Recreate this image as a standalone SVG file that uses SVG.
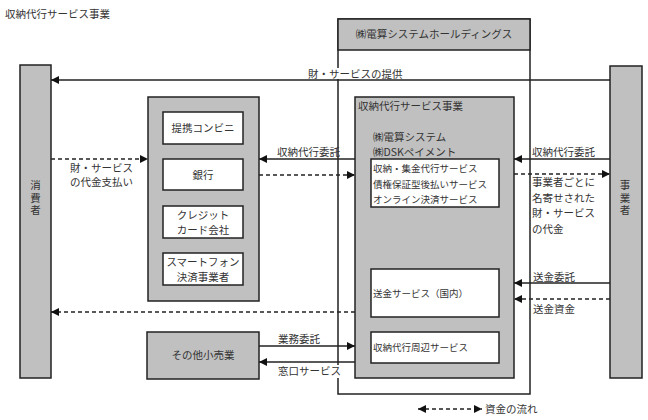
<svg xmlns="http://www.w3.org/2000/svg" width="648" height="420" viewBox="0 0 648 420">
<defs>
<style>
text{font-family:"Noto Sans CJK JP","Noto Sans",sans-serif;font-size:10.5px;fill:#333}
.c{text-anchor:middle}
.s{font-size:9.5px}
.v{writing-mode:vertical-rl;text-anchor:middle;letter-spacing:2px}
.gray{fill:#c0c0c0;stroke:#222;stroke-width:1.5}
.white{fill:#fff;stroke:#222;stroke-width:1.5}
.ln{stroke:#222;stroke-width:1.3;fill:none}
.ds{stroke:#222;stroke-width:1.5;fill:none;stroke-dasharray:4 3}
</style>
<marker id="ah" viewBox="0 0 8 8" refX="8" refY="4" markerWidth="8" markerHeight="8" markerUnits="userSpaceOnUse" orient="auto-start-reverse">
<path d="M0,0 L8,4 L0,8 z" fill="#111"/>
</marker>
</defs>
<rect width="648" height="420" fill="#fff"/>
<text x="5" y="18">収納代行サービス事業</text>

<g id="holdings">
<rect x="338" y="19" width="192" height="375" class="white"/>
<rect x="338" y="19" width="192" height="31" class="gray"/>
<text x="434" y="38" class="c">㈱電算システムホールディングス</text>
</g>

<g id="shuno-jigyo">
<rect x="355" y="97" width="159" height="281" class="gray"/>
<text x="358" y="110">収納代行サービス事業</text>
<text x="373" y="141">㈱電算システム</text>
<text x="373" y="156">㈱DSKペイメント</text>
</g>
<g id="shuno-services">
<rect x="371" y="159" width="128" height="48" class="white"/>
<text x="373" y="172" class="s">収納・集金代行サービス</text>
<text x="373" y="188" class="s">債権保証型後払いサービス</text>
<text x="373" y="203" class="s">オンライン決済サービス</text>
</g>
<g id="sokin">
<rect x="371" y="269" width="128" height="48" class="white"/>
<text x="373" y="297" class="s">送金サービス（国内）</text>
</g>
<g id="shuhen">
<rect x="371" y="332" width="128" height="31" class="white"/>
<text x="373" y="351" class="s">収納代行周辺サービス</text>
</g>

<g id="shohisha">
<rect x="20" y="65" width="31" height="313" class="gray"/>
<text x="35.5" y="199" class="v">消費者</text>
</g>
<g id="jigyosha">
<rect x="610" y="66" width="32" height="312" class="gray"/>
<text x="625" y="199" class="v">事業者</text>
</g>

<g id="partners">
<rect x="148" y="97" width="111" height="204" class="gray"/>
</g>
<g id="konbini">
<rect x="163" y="112" width="80" height="32" class="white"/>
<text x="203" y="132" class="c">提携コンビニ</text>
</g>
<g id="ginko">
<rect x="163" y="159" width="80" height="31" class="white"/>
<text x="203" y="179" class="c">銀行</text>
</g>
<g id="credit">
<rect x="163" y="206" width="80" height="32" class="white"/>
<text x="203" y="219" class="c">クレジット</text>
<text x="203" y="234" class="c">カード会社</text>
</g>
<g id="smartphone">
<rect x="163" y="253" width="80" height="32" class="white"/>
<text x="203" y="266" class="c">スマートフォン</text>
<text x="203" y="281" class="c">決済事業者</text>
</g>
<g id="sonota">
<rect x="147" y="332" width="112" height="47" class="gray"/>
<text x="203" y="359" class="c">その他小売業</text>
</g>

<g id="connectors">
<line x1="610" y1="80" x2="51" y2="80" class="ln" marker-end="url(#ah)"/>
<rect x="306" y="68" width="100" height="11" fill="#fff"/>
<text x="308" y="78">財・サービスの提供</text>

<line x1="610" y1="159" x2="514" y2="159" class="ln" marker-end="url(#ah)"/>
<text x="532" y="156">収納代行委託</text>
<line x1="514" y1="174" x2="610" y2="174" class="ds" marker-end="url(#ah)"/>
<text x="532" y="186">事業者ごとに</text>
<text x="532" y="202">名寄せされた</text>
<text x="532" y="217">財・サービス</text>
<text x="532" y="233">の代金</text>

<line x1="355" y1="159" x2="259" y2="159" class="ln" marker-end="url(#ah)"/>
<text x="277" y="156">収納代行委託</text>
<line x1="259" y1="175" x2="355" y2="175" class="ds" marker-end="url(#ah)"/>

<line x1="51" y1="159" x2="148" y2="159" class="ds" marker-end="url(#ah)"/>
<text x="70" y="172">財・サービス</text>
<text x="70" y="186">の代金支払い</text>

<line x1="355" y1="312" x2="51" y2="312" class="ds" marker-end="url(#ah)"/>

<line x1="610" y1="283" x2="514" y2="283" class="ln" marker-end="url(#ah)"/>
<text x="533" y="281">送金委託</text>
<line x1="610" y1="299" x2="514" y2="299" class="ds" marker-end="url(#ah)"/>
<text x="533" y="313">送金資金</text>

<line x1="259" y1="346" x2="355" y2="346" class="ln" marker-end="url(#ah)"/>
<text x="278" y="343">業務委託</text>
<line x1="355" y1="362" x2="259" y2="362" class="ln" marker-end="url(#ah)"/>
<rect x="276" y="365" width="66" height="13" fill="#fff"/>
<text x="278" y="375">窓口サービス</text>
</g>

<g id="legend">
<line x1="418" y1="409" x2="482" y2="409" class="ds" marker-start="url(#ah)" marker-end="url(#ah)"/>
<text x="485" y="413">資金の流れ</text>
</g>
</svg>
